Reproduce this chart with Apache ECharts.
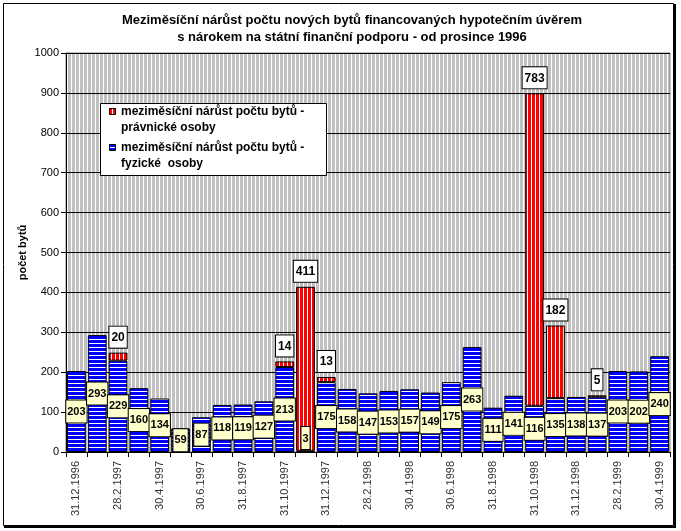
<!DOCTYPE html>
<html><head><meta charset="utf-8">
<script src="https://cdn.jsdelivr.net/npm/echarts@6/dist/echarts.min.js"></script>
<style>html,body{margin:0;padding:0;background:#fff}#c{width:681px;height:531px}</style>
</head><body><div id="c"></div>
<script>
const categories = ['31.12.1996','31.1.1997','28.2.1997','31.3.1997','30.4.1997','31.5.1997','30.6.1997','31.7.1997','31.8.1997','30.9.1997','31.10.1997','30.11.1997','31.12.1997','31.1.1998','28.2.1998','31.3.1998','30.4.1998','31.5.1998','30.6.1998','31.7.1998','31.8.1998','30.9.1998','31.10.1998','30.11.1998','31.12.1998','31.1.1999','28.2.1999','31.3.1999','30.4.1999'];
const fyzicke = [203,293,229,160,134,59,87,118,119,127,213,3,175,158,147,153,157,149,175,263,111,141,116,135,138,137,203,202,240];
const pravnicke = [null,null,20,null,null,null,null,null,null,null,14,411,13,null,null,null,null,null,null,null,null,null,783,182,null,5,null,null,null];
const titleLines = ['Meziměsíční nárůst počtu nových bytů financovaných hypotečním úvěrem','s nárokem na státní finanční podporu - od prosince 1996'];
const legendNames = ['meziměsíční nárůst počtu bytů -\nprávnické osoby','meziměsíční nárůst počtu bytů -\nfyzické  osoby'];
const yName = 'počet bytů';

const FF = 'Arial, "Liberation Sans", sans-serif';
function pat(bg, fg, vertical){
  const c = document.createElement('canvas'); c.width = 4; c.height = 4;
  const g = c.getContext('2d'); g.fillStyle = bg; g.fillRect(0,0,4,4);
  g.fillStyle = fg; if (vertical) g.fillRect(3,0,1,4); else g.fillRect(0,3,4,1);
  return {image: c, repeat: 'repeat'};
}
const bluePat = pat('#0000ff','#ffffff',false);
const redPat = pat('#ff0000','#ffffff',true);
const bgPat = pat('#c0c0c0','#ffffff',true);

const chart = echarts.init(document.getElementById('c'), null, {renderer:'canvas'});
chart.setOption({
  animation:false,
  backgroundColor:'#fff',
  title:{text:titleLines.join('\n'), left:347, top:7, textAlign:'center',
    textStyle:{fontFamily:FF, fontWeight:'bold', fontSize:13, lineHeight:17, color:'#000'}},
  grid:{left:66, right:11, top:53, bottom:79, show:true, backgroundColor:bgPat, borderColor:'#808080', borderWidth:1},
  xAxis:{type:'category', data:categories,
    axisLine:{lineStyle:{color:'#000'}},
    axisTick:{show:true, interval:0, length:5, lineStyle:{color:'#000'}},
    axisLabel:{interval:1, rotate:90, margin:9, fontFamily:FF, fontSize:11, color:'#333'}},
  yAxis:{type:'value', min:0, max:1000, interval:100,
    name:yName, nameLocation:'middle', nameGap:38, nameMoveOverlap:false,
    nameTextStyle:{fontFamily:FF, fontWeight:'bold', fontSize:11, color:'#000'},
    axisLine:{show:true, lineStyle:{color:'#000'}},
    axisTick:{show:true, length:5, lineStyle:{color:'#000'}},
    splitLine:{lineStyle:{color:'#000', width:1}},
    axisLabel:{fontFamily:FF, fontSize:11, color:'#000', margin:7, formatter:v => String(v)}},
  series:[
    {name:legendNames[1], type:'bar', stack:'a', barCategoryGap:'10%',
     data:fyzicke.map(v => v < 20 ? {value:v, label:{position:'insideBottom', distance:3}} : v),
     itemStyle:{color:bluePat, borderColor:'#000', borderWidth:1},
     label:{show:true, position:'inside', backgroundColor:'#ffffcc', borderColor:'#000', borderWidth:1,
       padding:[6,1,5,1], fontFamily:FF, fontWeight:'bold', fontSize:11, color:'#000'}},
    {name:legendNames[0], type:'bar', stack:'a', barCategoryGap:'10%',
     data:pravnicke,
     itemStyle:{color:redPat, borderColor:'#000', borderWidth:1},
     label:{show:true, position:'top', distance:5, backgroundColor:'#fff', borderColor:'#000', borderWidth:1,
       padding:[5,2,4,2], fontFamily:FF, fontWeight:'bold', fontSize:12, color:'#000'}}
  ],
  graphic:[
    {type:'rect', shape:{x:3.5, y:3.5, width:670, height:522}, style:{fill:null, stroke:'#000', lineWidth:1}, silent:true},
    {type:'polyline', shape:{points:[[675,4],[675,527],[4,527]]}, style:{fill:null, stroke:'#000', lineWidth:2}, silent:true},
    {type:'rect', shape:{x:100.5, y:103.5, width:226, height:72}, style:{fill:'#fff', stroke:'#000', lineWidth:1}, z:100},
    {type:'rect', shape:{x:109.5, y:108.5, width:6, height:6}, style:{fill:'#ff0000', stroke:'#000', lineWidth:1}, z:101},
    {type:'rect', shape:{x:112, y:109, width:1, height:5}, style:{fill:'#fff'}, z:102},
    {type:'text', x:121, y:104, style:{text:legendNames[0], fontFamily:FF, fontWeight:'bold', fontSize:12, lineHeight:16, fill:'#000'}, z:101},
    {type:'rect', shape:{x:109.5, y:144.5, width:6, height:6}, style:{fill:'#0000ff', stroke:'#000', lineWidth:1}, z:101},
    {type:'rect', shape:{x:110, y:147, width:5, height:1}, style:{fill:'#fff'}, z:102},
    {type:'text', x:121, y:140, style:{text:legendNames[1], fontFamily:FF, fontWeight:'bold', fontSize:12, lineHeight:16, fill:'#000'}, z:101}
  ]
});
</script></body></html>
